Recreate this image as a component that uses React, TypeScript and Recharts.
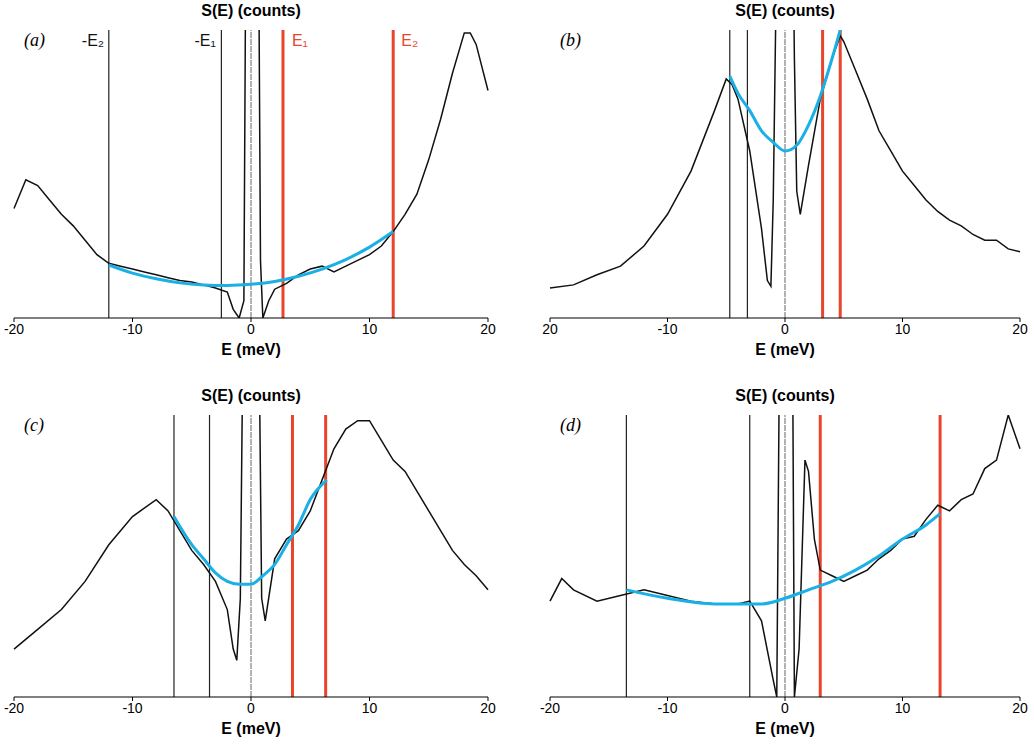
import { LineChart, Line, XAxis, YAxis, ReferenceLine } from "recharts";

type Pt = { e: number; s: number };
const mk = (xs: number[], ys: number[]): Pt[] => xs.map((e, i) => ({ e, s: ys[i] }));

const ticks = [-20, -10, 0, 10, 20];

// panel (a)
const aE = [-20, -19, -18, -17, -16, -15, -14, -13, -12, -11, -10, -9, -8, -7, -6, -5, -4, -3, -2, -1.5, -1, -0.6, -0.4, 0, 0.6, 0.8, 1, 1.5, 2, 3, 4, 5, 6, 7, 8, 9, 10, 11, 12, 13, 14, 15, 16, 17, 18, 18.5, 19, 20];
const aS = [38, 48, 46, 41, 36, 32, 27, 22, 19, 18, 17, 16, 15, 14, 13, 12.5, 11.5, 10.4, 9, 3, 0, 6, 160, 200, 160, 20, 0, 6, 10, 12, 15, 17, 18, 16, 18, 20, 22, 25, 30, 36, 43, 55, 69, 85, 99, 99, 95, 79];
const aFitE = [-12, -10, -8, -6, -4, -2, 0, 2, 4, 6, 8, 10, 12];
const aFitS = [18.4, 15.6, 13.6, 12.2, 11.5, 11.3, 11.7, 12.7, 14.5, 17, 20.3, 24.6, 30];

// panel (b)
const bE = [-20, -18, -16, -14, -12, -10, -8, -6, -5, -4.5, -4, -3, -2, -1.5, -1.2, -1, -0.6, 0, 0.6, 0.8, 1, 1.3, 2, 3, 4, 4.7, 5, 6, 7, 8, 9, 10, 11, 12, 13, 14, 15, 16, 17, 18, 19, 20];
const bS = [10.4, 11.5, 15, 18, 25, 36, 51, 72, 83, 81, 76, 58, 31, 13, 11, 41, 160, 200, 160, 90, 44, 36, 53, 76, 90, 98, 96, 86, 76, 65, 58, 51, 46, 41, 37, 34, 32, 29, 27, 27, 24, 23];
const bFitE = [-4.7, -4, -3, -2, -1, 0, 1, 2, 3, 4, 4.7];
const bFitS = [84, 78, 72, 65, 61, 58, 60, 67, 77, 90, 100];

// panel (c)
const cE = [-20, -18, -16, -14, -12, -10, -8, -7, -6, -5, -4, -3, -2, -1.5, -1.2, -0.9, -0.6, 0, 0.6, 0.9, 1.2, 2, 3, 4, 5, 6, 7, 8, 9, 10, 11, 12, 13, 14, 15, 16, 17, 18, 19, 20];
const cS = [17, 24, 31, 41, 54, 64, 70, 66, 59, 52, 47, 41, 31, 17, 13, 35, 160, 200, 160, 35, 27, 49, 56, 59, 66, 77, 88, 95, 98, 98, 91, 84, 80, 73, 66, 59, 52, 47, 43, 38];
const cFitE = [-6.5, -5, -4, -3, -2, -1, 0, 1, 2, 3, 4, 5, 6.4];
const cFitS = [64, 54, 49, 44, 41, 40, 40, 43, 47, 54, 61, 70, 77];

// panel (d)
const dE = [-20, -19, -18, -16, -14, -12, -10, -8, -6, -4, -3, -2, -1, -0.7, -0.4, 0, 0.6, 0.8, 1.2, 1.7, 2, 2.5, 3, 4, 5, 6, 7, 8, 9, 10, 11, 12, 13, 14, 15, 16, 17, 18, 19, 20];
const dS = [34, 42, 38, 34, 36, 38, 36, 34, 33, 33, 34, 27, 6, 0, 160, 200, 160, 0, 17, 84, 80, 56, 45, 43, 41, 43, 45, 49, 52, 56, 57, 63, 68, 66, 70, 72, 81, 84, 100, 88];
const dFitE = [-13.5, -10, -6, -4, -2, 0, 2, 4, 6, 8, 10, 12, 13.2];
const dFitS = [38, 35, 33, 33, 33, 35, 38, 41, 45, 50, 56, 61, 65];

type Props = {
  left: number; top: number; mb: number; ml: number; mr: number;
  curve: Pt[]; fit: Pt[]; black: number[]; red: number[]; tag: string;
  labels?: boolean; tickFmt?: (v: number) => string;
};

function Panel({ left, top, mb, ml, mr, curve, fit, black, red, tag, labels, tickFmt }: Props) {
  const W = 517, H = 370;
  const zeroX = ml + (W - ml - mr) / 2;
  return (
    <div style={{ position: "absolute", left, top, width: W, height: H, fontFamily: "Liberation Sans, Arial, sans-serif" }}>
      <LineChart width={W} height={H} margin={{ top: 30, right: mr, bottom: mb, left: ml }}>
        <XAxis dataKey="e" type="number" domain={[-20, 20]} ticks={ticks} allowDuplicatedCategory={false}
          stroke="#000" tick={{ fill: "#000", fontSize: 14 }} tickSize={4} tickFormatter={tickFmt} />
        <YAxis hide domain={[0, 100]} allowDataOverflow />
        <ReferenceLine x={0} stroke="#999" strokeWidth={1.5} strokeDasharray="6 1" />
        {black.map((x, i) => (
          <ReferenceLine key={"k" + i} x={x} stroke="#222" strokeWidth={1.2}
            label={labels ? { value: i === 0 ? "-E₂" : "-E₁", position: "insideTopLeft", fill: "#111", fontSize: 16, dx: -32 } : undefined} />
        ))}
        {red.map((x, i) => (
          <ReferenceLine key={"r" + i} x={x} stroke="#e8452c" strokeWidth={3}
            label={labels ? { value: i === 0 ? "E₁" : "E₂", position: "insideTopRight", fill: "#e8452c", fontSize: 16, dx: 30 } : undefined} />
        ))}
        <Line data={curve} dataKey="s" stroke="#111" strokeWidth={1.5} dot={false} isAnimationActive={false} />
        <Line data={fit} dataKey="s" type="monotone" stroke="#1ab0e6" strokeWidth={3} dot={false} isAnimationActive={false} />
      </LineChart>
      <div style={{ position: "absolute", left: zeroX - 80, width: 160, top: 2, textAlign: "center", fontWeight: "bold", fontSize: 16 }}>S(E) (counts)</div>
      <div style={{ position: "absolute", left: zeroX - 80, width: 160, top: H - mb - 30 + 23, textAlign: "center", fontWeight: "bold", fontSize: 16 }}>E (meV)</div>
      <div style={{ position: "absolute", left: ml + 10, top: 30, fontStyle: "italic", fontFamily: "Liberation Serif, serif", fontSize: 18 }}>{tag}</div>
    </div>
  );
}

export default function App() {
  return (
    <div style={{ position: "absolute", left: 0, top: 0, width: 1034, height: 754, background: "#fff" }}>
      <Panel left={0} top={0} ml={14} mr={29} mb={22} curve={mk(aE, aS)} fit={mk(aFitE, aFitS)} black={[-12, -2.5]} red={[2.7, 12]} tag="(a)" labels />
      <Panel left={517} top={0} ml={33} mr={14} mb={22} curve={mk(bE, bS)} fit={mk(bFitE, bFitS)} black={[-4.7, -3.2]} red={[3.2, 4.7]} tag="(b)"
        tickFmt={(v) => (v === -20 ? "20" : String(v))} />
      <Panel left={0} top={385} ml={14} mr={29} mb={28} curve={mk(cE, cS)} fit={mk(cFitE, cFitS)} black={[-6.5, -3.5]} red={[3.5, 6.3]} tag="(c)" />
      <Panel left={517} top={385} ml={33} mr={14} mb={28} curve={mk(dE, dS)} fit={mk(dFitE, dFitS)} black={[-13.5, -3]} red={[3, 13.2]} tag="(d)" />
    </div>
  );
}
